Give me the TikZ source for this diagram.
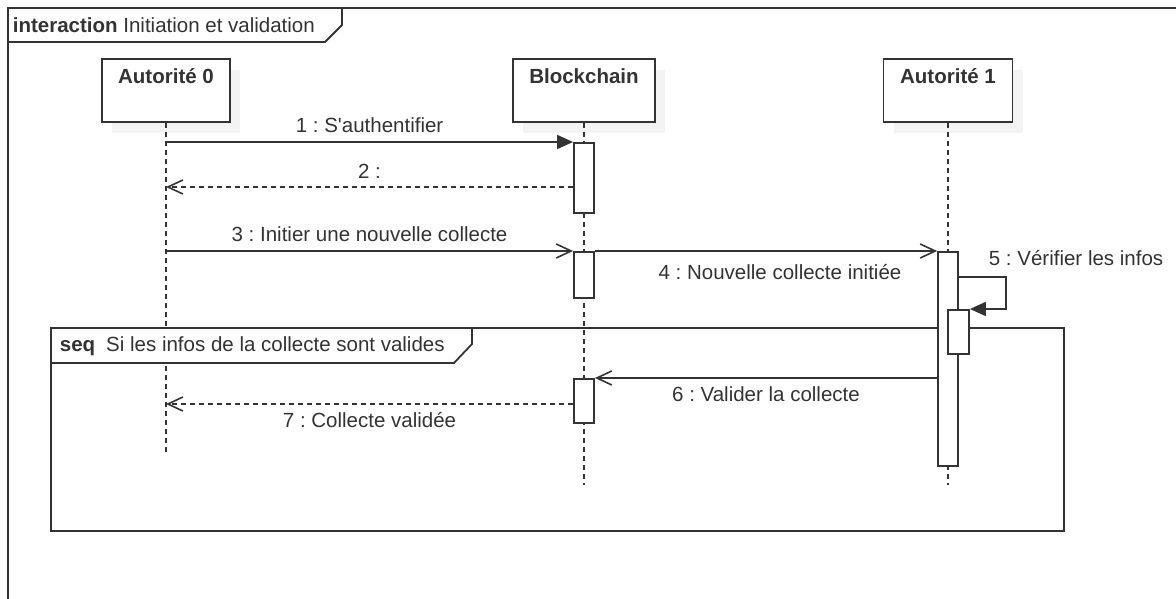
\documentclass[tikz,border=0pt]{standalone}
\usepackage{fontspec}
\setmainfont{Liberation Sans}
\usetikzlibrary{arrows.meta,shadows}
\definecolor{ink}{HTML}{333333}
\definecolor{shade}{HTML}{F3F3F3}
\frenchspacing

\begin{document}
\begin{tikzpicture}[x=1pt,y=-1pt,color=ink,line width=1.8pt,
  font=\fontsize{20.5}{24}\selectfont,
  head/.style={draw,fill=white,anchor=north,minimum width=128pt,
    inner ysep=10pt,text height=14.7pt,text depth=28.3pt,font=\fontsize{20.5}{24}\selectfont\bfseries,
    drop shadow={shadow xshift=10pt,shadow yshift=-11pt,fill=shade,opacity=1}},
  life/.style={line width=1.5pt,dash pattern=on 5pt off 4pt},
  act/.style={draw,fill=white,anchor=north,minimum width=20pt,inner sep=0pt},
  call/.style={-{Triangle[length=16pt,width=14pt]}},
  async/.style={-{Straight Barb[length=15pt,width=14pt,line width=1.6pt]}},
  reply/.style={async,dash pattern=on 5pt off 4pt},
  msg/.style={inner sep=0pt}]
  \useasboundingbox (0,0) rectangle (1176,599);
  \clip (0,0) rectangle (1176,599);

  % outer interaction frame
  \draw[line width=2pt] (8,599) -- (8,8) -- (1176,8);
  \draw (8,42) -- (325,42) -- (342,25) -- (342,8);
  \node[anchor=west,inner sep=0pt] (title) at (12,25)
    {\textbf{interaction} Initiation et validation};

  % lifelines
  \node[head] (aut0) at (166,58) {Autorité 0};
  \node[head,minimum width=142pt] (chain) at (584,58) {Blockchain};
  \node[head,minimum width=129pt] (aut1) at (948,58) {Autorité 1};
  \coordinate (aut0end) at (166,453);
  \coordinate (chainend) at (584,485);
  \coordinate (aut1end) at (948,485);
  \draw[life] (aut0) -- (aut0end);
  \draw[life] (chain) -- (chainend);
  \draw[life] (aut1) -- (aut1end);

  % combined fragment
  \draw (51,328) rectangle (1064,531);
  \draw[fill=white] (51,363) -- (454,363) -- (472,344) -- (472,328) -- (51,328) -- cycle;
  \node[anchor=west,inner sep=0pt] (cond) at (59,346)
    {\textbf{seq}\hspace{11pt}Si les infos de la collecte sont valides};

  % activations
  \node[act,minimum height=70pt] (chain1) at (584,142) {};
  \node[act,minimum height=46pt] (chain2) at (584,251) {};
  \node[act,minimum height=44pt] (chain3) at (584,378) {};
  \node[act,minimum height=214pt] (aut1a) at (948,251) {};
  \node[act,minimum height=44pt,minimum width=21pt] (aut1b) at (958.5,309) {};

  % messages
  \coordinate (m1) at (166,142);
  \coordinate (m2) at (166,187);
  \coordinate (m3) at (166,251);
  \coordinate (m5) at (958,277);
  \coordinate (m7) at (166,404);
  \draw[call] (m1) -- node[msg,above=8pt] (l1) {1 : S\textquotesingle authentifier} (chain1.north west);
  \draw[reply] (chain1.west |- m2) -- node[msg,above=8pt] (l2) {2 :} (m2);
  \draw[async] (m3) -- node[msg,above=8pt] (l3) {3 : Initier une nouvelle collecte} (chain2.north west);
  \draw[async] (chain2.north east) -- node[msg,below=13pt,xshift=14pt] (l4) {4 : Nouvelle collecte initiée} (aut1a.north west);
  \draw[call] (m5) -- node[msg,pos=.625,anchor=south west,yshift=10pt] (l5) {5 : Vérifier les infos}
    ++(48,0) |- (aut1b.north east);
  \draw[async] (aut1a.west |- chain3.north) -- node[msg,below=8pt] (l6) {6 : Valider la collecte} (chain3.north east);
  \draw[reply] (chain3.west |- m7) -- node[msg,below=8pt] (l7) {7 : Collecte validée} (m7);
\end{tikzpicture}
\end{document}
